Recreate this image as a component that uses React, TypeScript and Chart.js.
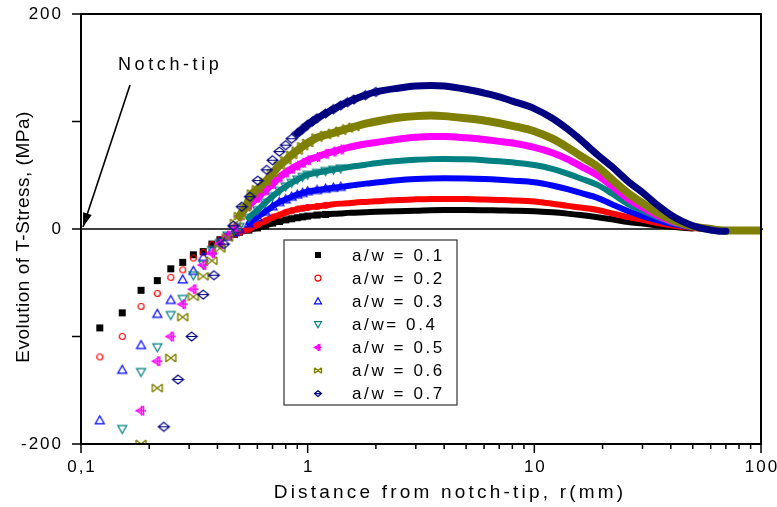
import React, { useEffect, useRef } from 'react';
import { Chart, registerables } from 'chart.js';

Chart.register(...registerables);

// ---------- data ----------
const seriesNames = ['a/w = 0.1', 'a/w = 0.2', 'a/w = 0.3', 'a/w= 0.4', 'a/w = 0.5', 'a/w = 0.6', 'a/w = 0.7'];
const seriesColors = ['#000000', '#ff0000', '#0000ff', '#008080', '#ff00ff', '#808000', '#000080'];
const seriesMarkers = ['square', 'circle', 'up', 'down', 'left', 'bow', 'diamond'];

// [r (mm), T-stress (MPa)]
const aw01: [number, number][] = [[0.121,-92],[0.152,-78],[0.184,-57],[0.217,-48],[0.249,-37],[0.281,-31],[0.313,-24],[0.346,-21],[0.378,-14],[0.41,-10],[0.443,-7],[0.475,-5],[0.5,-3],[0.55,-1],[0.6,1],[0.65,3],[0.7,5.5],[0.75,7],[0.8,8.5],[0.85,9.5],[0.9,10.5],[0.95,11.3],[1,12],[1.1,13],[1.2,13.6],[1.3,14.1],[1.4,14.5],[1.5,15],[1.6,15.2],[1.8,15.6],[2,16],[2.5,16.6],[3,17],[3.5,17.5],[4,17.7],[5,17.7],[6,17.5],[7,17.2],[8,17],[10,16.5],[12,15.5],[14,14.3],[16,13],[19,11],[22,9],[26,6.5],[30,5],[35,3.3],[40,2.2],[45,1.2],[50,0.5]];
const aw02: [number, number][] = [[0.121,-119],[0.152,-100],[0.184,-72],[0.217,-60],[0.249,-45],[0.281,-38],[0.313,-27],[0.346,-22],[0.378,-14.5],[0.41,-10],[0.443,-7],[0.475,-4.5],[0.5,-3],[0.55,0],[0.6,4],[0.65,7.5],[0.7,11],[0.75,13],[0.8,15.5],[0.85,17],[0.9,18.5],[0.95,19.3],[1,20],[1.1,21],[1.2,22],[1.3,23],[1.4,23.6],[1.5,24],[1.6,24.5],[1.8,25.2],[2,25.8],[2.5,27],[3,27.6],[3.5,28],[4,28],[5,27.8],[6,27.4],[7,27],[8,26.6],[10,25.5],[12,23.5],[14,21.5],[16,20],[19,17.7],[22,14.5],[26,11],[30,8.5],[35,5.5],[40,3.5],[45,2],[50,1],[55,0.3]];
const aw03: [number, number][] = [[0.121,-178],[0.152,-131],[0.184,-108],[0.217,-79],[0.249,-66],[0.281,-47],[0.313,-39],[0.346,-26],[0.378,-20],[0.41,-12],[0.443,-7],[0.475,-3],[0.5,0],[0.55,5],[0.6,11],[0.65,16],[0.7,21],[0.75,25],[0.8,27.5],[0.85,30],[0.9,32],[0.95,33.5],[1,35],[1.1,36.2],[1.2,37.4],[1.3,38.4],[1.4,39.2],[1.5,40],[1.6,40.8],[1.8,42.2],[2,43.2],[2.5,45.4],[3,46.5],[3.5,47],[4,47.2],[5,47],[6,46.5],[7,45.8],[8,45],[10,43.5],[12,40.5],[14,37],[16,33.5],[19,29],[22,23],[26,16.5],[30,12],[35,8],[40,5],[45,3],[50,1.5],[55,0.5],[60,0]];
const aw04: [number, number][] = [[0.152,-186],[0.184,-133],[0.217,-110],[0.249,-80],[0.281,-65],[0.313,-43],[0.346,-33],[0.378,-19.5],[0.41,-13],[0.443,-6],[0.475,-1],[0.5,2],[0.55,10.5],[0.6,17.5],[0.65,24.5],[0.7,30.5],[0.75,35.5],[0.8,39.5],[0.85,43],[0.9,46],[0.95,48.5],[1,50.5],[1.1,52.3],[1.2,54],[1.3,55.2],[1.4,56.4],[1.5,57.4],[1.6,58.3],[1.8,59.8],[2,61.2],[2.5,63.3],[3,64.5],[3.5,65],[4,65.2],[5,64.8],[6,64],[7,63],[8,62],[10,59.5],[12,56],[14,51.5],[16,47],[19,41],[22,33],[26,23],[30,17],[35,11],[40,6.5],[45,3.8],[50,2],[55,0.8],[60,0.2]];
const aw05: [number, number][] = [[0.184,-169],[0.217,-123],[0.249,-100],[0.281,-70],[0.313,-56],[0.346,-33.5],[0.378,-22.6],[0.41,-14],[0.443,-6],[0.475,2],[0.5,12],[0.55,22],[0.6,29],[0.65,36],[0.7,42],[0.75,48],[0.8,52.5],[0.85,56],[0.9,59],[0.95,61.5],[1,64],[1.1,67],[1.2,70],[1.3,72],[1.4,74],[1.5,75.7],[1.6,77],[1.8,79],[2,80.5],[2.5,83.5],[3,85.3],[3.5,86],[4,86],[5,84.8],[6,83.3],[7,81.5],[8,80],[10,76],[12,71],[14,65],[16,58.5],[19,50],[22,40],[26,28],[30,20],[35,12.5],[40,7.5],[45,4.3],[50,2.3],[55,1],[60,0.3]];
const aw06: [number, number][] = [[0.184,-200],[0.217,-148],[0.249,-120],[0.281,-82],[0.313,-63],[0.346,-44],[0.378,-29.5],[0.41,-18],[0.443,-8],[0.48,5.6],[0.5,12],[0.53,20],[0.57,33],[0.6,37],[0.65,44],[0.7,52],[0.75,59],[0.8,64],[0.85,69],[0.9,73],[0.95,77],[1,80],[1.1,85],[1.2,87.5],[1.3,89.5],[1.4,91.5],[1.5,93.5],[1.6,95],[1.8,98],[2,100],[2.5,103.5],[3,105],[3.5,105.5],[4,105],[5,103],[6,101],[7,98.5],[8,96],[10,91],[12,84],[14,76],[16,68],[19,58],[22,46],[26,33],[30,24],[35,15],[40,9],[45,5],[50,2.5],[55,1],[60,0],[65,-1],[70,-1.5],[80,-1.5],[90,-1.5],[100,-1.5]];
const aw07: [number, number][] = [[0.232,-184],[0.268,-140],[0.308,-100],[0.346,-61],[0.386,-43],[0.427,-14],[0.47,3],[0.512,20.7],[0.556,30],[0.603,45],[0.66,55],[0.7,64],[0.75,72],[0.8,78],[0.85,84],[0.9,89],[0.95,93],[1,97],[1.05,100],[1.1,103],[1.2,107.5],[1.3,111.5],[1.4,115],[1.5,118],[1.6,120.5],[1.8,124.5],[2,127.5],[2.5,131],[3,133],[3.5,133.5],[4,133],[5,130],[6,126.5],[7,123],[8,119],[10,112],[12,103],[14,93],[16,83],[19,69],[22,58],[26,44],[30,34],[35,22],[40,13],[45,7],[50,3],[55,0.5],[60,-1],[65,-2],[70,-2]];
const seriesData = [aw01, aw02, aw03, aw04, aw05, aw06, aw07];

const xTickValues = [0.1, 1, 10, 100];
const xTickLabels = ['0,1', '1', '10', '100'];
const xMinorValues = [0.2, 0.3, 0.4, 0.5, 0.6, 0.7, 0.8, 0.9, 2, 3, 4, 5, 6, 7, 8, 9, 20, 30, 40, 50, 60, 70, 80, 90];
const yTickValues = [-200, -100, 0, 100, 200];
const yTickLabels = ['-200', '', '0', '', '200'];

const xTitle = 'Distance from notch-tip, r(mm)';
const yTitle = 'Evolution of T-Stress, (MPa)';
const noteText = 'Notch-tip';

// ---------- styling ----------
const bandFrom = [0.5, 0.5, 0.55, 0.55, 0.5, 0.5, 0.9];
const markersTo = [1.2, 1.2, 1.4, 1.4, 1.4, 1.6, 2.0];
const bandWidth = [6, 6, 6, 6, 7, 8, 7];
const markerSize = [7, 7, 9, 9, 10, 10, 11];
const FONT = '"Liberation Sans", Arial, sans-serif';

function drawMarker(g: CanvasRenderingContext2D, kind: string, color: string, x: number, y: number, s: number) {
  g.save();
  g.strokeStyle = color;
  g.fillStyle = color;
  g.lineWidth = 1.2;
  const h = s / 2;
  g.beginPath();
  switch (kind) {
    case 'square':
      g.fillRect(x - h, y - h, s, s);
      break;
    case 'circle':
      g.arc(x, y, h - 0.5, 0, Math.PI * 2);
      g.stroke();
      break;
    case 'up':
      g.moveTo(x, y - h);
      g.lineTo(x + h, y + h * 0.75);
      g.lineTo(x - h, y + h * 0.75);
      g.closePath();
      g.stroke();
      break;
    case 'down':
      g.moveTo(x, y + h);
      g.lineTo(x + h, y - h * 0.75);
      g.lineTo(x - h, y - h * 0.75);
      g.closePath();
      g.stroke();
      break;
    case 'left':
      g.lineWidth = 1.4;
      g.moveTo(x - h, y);
      g.lineTo(x + h * 0.5, y - h * 0.8);
      g.lineTo(x + h * 0.5, y + h * 0.8);
      g.closePath();
      g.stroke();
      g.beginPath();
      g.moveTo(x - h, y);
      g.lineTo(x + h, y);
      g.moveTo(x + h * 0.1, y - h);
      g.lineTo(x + h * 0.1, y + h);
      g.stroke();
      break;
    case 'bow':
      g.lineWidth = 1.4;
      g.moveTo(x - h, y - h * 0.8);
      g.lineTo(x + h, y + h * 0.8);
      g.moveTo(x + h, y - h * 0.8);
      g.lineTo(x - h, y + h * 0.8);
      g.moveTo(x - h, y - h * 0.8);
      g.lineTo(x - h, y + h * 0.8);
      g.moveTo(x + h, y - h * 0.8);
      g.lineTo(x + h, y + h * 0.8);
      g.stroke();
      break;
    case 'diamond':
      g.moveTo(x, y - h * 0.8);
      g.lineTo(x + h, y);
      g.lineTo(x, y + h * 0.8);
      g.lineTo(x - h, y);
      g.closePath();
      g.moveTo(x - h, y);
      g.lineTo(x + h, y);
      g.stroke();
      break;
  }
  g.restore();
}

function makeMarkerCanvas(kind: string, color: string, s: number) {
  const c = document.createElement('canvas');
  const n = Math.ceil(s + 4);
  c.width = n;
  c.height = n;
  const g = c.getContext('2d') as CanvasRenderingContext2D;
  drawMarker(g, kind, color, n / 2, n / 2, s);
  return c;
}

function setSpacing(ctx: CanvasRenderingContext2D, px: number) {
  (ctx as any).letterSpacing = px + 'px';
}

const decorPlugin = {
  id: 'decor',
  beforeDatasetsDraw(chart: any) {
    const ctx: CanvasRenderingContext2D = chart.ctx;
    const { left, right } = chart.chartArea;
    const y0 = chart.scales.y.getPixelForValue(0);
    ctx.save();
    ctx.strokeStyle = '#000';
    ctx.lineWidth = 1.5;
    ctx.beginPath();
    ctx.moveTo(left, y0);
    ctx.lineTo(right + 2, y0);
    ctx.stroke();
    ctx.restore();
  },
  afterDraw(chart: any) {
    const ctx: CanvasRenderingContext2D = chart.ctx;
    const { left, right, top, bottom } = chart.chartArea;
    const xs = chart.scales.x;
    const ys = chart.scales.y;
    ctx.save();
    // frame
    ctx.strokeStyle = '#000';
    ctx.lineWidth = 2;
    ctx.strokeRect(left, top, right - left, bottom - top);
    // ticks
    ctx.lineWidth = 1.5;
    ctx.beginPath();
    yTickValues.forEach((v) => {
      const p = ys.getPixelForValue(v);
      ctx.moveTo(left - 9, p);
      ctx.lineTo(left, p);
    });
    xTickValues.forEach((v) => {
      const p = xs.getPixelForValue(v);
      ctx.moveTo(p, bottom);
      ctx.lineTo(p, bottom + 9);
    });
    xMinorValues.forEach((v) => {
      const p = xs.getPixelForValue(v);
      ctx.moveTo(p, bottom);
      ctx.lineTo(p, bottom + 5);
    });
    ctx.stroke();

    // tick labels
    ctx.fillStyle = '#000';
    ctx.font = `17px ${FONT}`;
    setSpacing(ctx, 2);
    ctx.textAlign = 'right';
    ctx.textBaseline = 'middle';
    yTickValues.forEach((v, i) => {
      if (!yTickLabels[i]) return;
      ctx.fillText(yTickLabels[i], left - 18, ys.getPixelForValue(v));
    });
    ctx.textAlign = 'center';
    xTickValues.forEach((v, i) => {
      ctx.fillText(xTickLabels[i], xs.getPixelForValue(v) + 1, bottom + 23);
    });

    // axis titles
    ctx.font = `19px ${FONT}`;
    setSpacing(ctx, 3.2);
    ctx.fillText(xTitle, 450, 493);
    setSpacing(ctx, 0.5);
    ctx.save();
    ctx.translate(24, 237);
    ctx.rotate(-Math.PI / 2);
    ctx.fillText(yTitle, 0, 0);
    ctx.restore();

    // annotation
    ctx.font = `18px ${FONT}`;
    setSpacing(ctx, 3.6);
    ctx.textAlign = 'left';
    ctx.fillText(noteText, 118, 65);
    const tipX = xs.getPixelForValue(0.1) + 2;
    const tipY = ys.getPixelForValue(0) - 2;
    const sx = 130, sy = 85;
    ctx.lineWidth = 1.6;
    ctx.beginPath();
    ctx.moveTo(sx, sy);
    ctx.lineTo(tipX, tipY);
    ctx.stroke();
    const ang = Math.atan2(tipY - sy, tipX - sx);
    const L = 14, W = 4.5;
    ctx.beginPath();
    ctx.moveTo(tipX, tipY);
    ctx.lineTo(tipX - L * Math.cos(ang) + W * Math.sin(ang), tipY - L * Math.sin(ang) - W * Math.cos(ang));
    ctx.lineTo(tipX - L * Math.cos(ang) - W * Math.sin(ang), tipY - L * Math.sin(ang) + W * Math.cos(ang));
    ctx.closePath();
    ctx.fill();

    // legend
    const bx = 284, by = 240, bw = 173, bh = 165;
    ctx.fillStyle = '#fff';
    ctx.fillRect(bx, by, bw, bh);
    ctx.strokeStyle = '#333';
    ctx.lineWidth = 1.2;
    ctx.strokeRect(bx, by, bw, bh);
    ctx.font = `17px ${FONT}`;
    setSpacing(ctx, 2.6);
    ctx.textBaseline = 'middle';
    ctx.textAlign = 'left';
    seriesNames.forEach((name, i) => {
      const ry = 255 + i * 23.1;
      drawMarker(ctx, seriesMarkers[i], seriesColors[i], 318, ry, i === 0 ? 6 : 7);
      ctx.fillStyle = '#000';
      ctx.fillText(name, 352, ry + 1);
    });
    ctx.restore();
  },
};

export default function App() {
  const ref = useRef<HTMLCanvasElement | null>(null);
  useEffect(() => {
    const canvas = ref.current;
    if (!canvas) return;
    const datasets = seriesData.map((pts, i) => {
      const color = seriesColors[i];
      const img = makeMarkerCanvas(seriesMarkers[i], color, markerSize[i]);
      return {
        label: seriesNames[i],
        data: pts.map(([x, y]) => ({ x, y })),
        showLine: true,
        cubicInterpolationMode: 'monotone',
        borderColor: color,
        borderWidth: bandWidth[i],
        borderCapStyle: 'round',
        segment: {
          borderColor: (c: any) => (c.p0.parsed.x >= bandFrom[i] ? color : 'rgba(0,0,0,0)'),
        },
        pointStyle: img,
        pointRadius: (c: any) => (c.raw && c.raw.x <= markersTo[i] ? 4 : 0),
        order: 6 - i,
      };
    });
    const chart = new Chart(canvas, {
      type: 'scatter',
      data: { datasets: datasets as any },
      options: {
        responsive: false,
        animation: false,
        events: [],
        layout: { padding: { left: 0, right: 16, top: 14, bottom: 0 } },
        plugins: { legend: { display: false }, tooltip: { enabled: false } },
        scales: {
          x: {
            type: 'logarithmic',
            min: 0.1,
            max: 100,
            grid: { display: false },
            border: { display: false },
            ticks: { display: false },
            afterFit: (s: any) => { s.height = 63; },
          },
          y: {
            type: 'linear',
            min: -200,
            max: 200,
            grid: { display: false },
            border: { display: false },
            ticks: { display: false },
            afterFit: (s: any) => { s.width = 81; },
          },
        },
      } as any,
      plugins: [decorPlugin],
    });
    return () => chart.destroy();
  }, []);
  return (
    <div style={{ position: 'absolute', left: 0, top: 0, width: 777, height: 507, background: '#fff' }}>
      <canvas ref={ref} width={777} height={507} />
    </div>
  );
}
